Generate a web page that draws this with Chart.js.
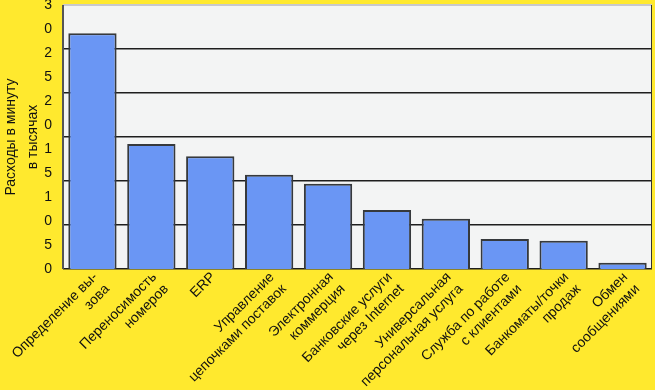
<!DOCTYPE html>
<html>
<head>
<meta charset="utf-8">
<script src="https://cdn.jsdelivr.net/npm/chart.js@4/dist/chart.umd.min.js"></script>
<style>
  html, body { margin: 0; padding: 0; background: #ffe92e; }
  #chart { display: block; }
</style>
</head>
<body>
<canvas id="chart" width="655" height="390"></canvas>
<script>
// categories along the x axis (two-line labels)
const categories = [
  ['Определение вы-', 'зова'],
  ['Переносимость', 'номеров'],
  'ERP',
  ['Управление', 'цепочками поставок'],
  ['Электронная', 'коммерция'],
  ['Банковские услуги', 'через Internet'],
  ['Универсальная', 'персональная услуга'],
  ['Служба по работе', 'с клиентами'],
  ['Банкоматы/точки', 'продаж'],
  ['Обмен', 'сообщениями']
];
// costs per minute, thousands
const costValues = [26.8, 14.2, 12.8, 10.7, 9.7, 6.7, 5.7, 3.4, 3.2, 0.7];
// the axis labels as printed in the original (bottom to top), digits got split
const yTickDigits = ['0', '5', '0', '1', '5', '1', '0', '2', '5', '2', '0', '3'];
const yTitle = ['Расходы в минуту', 'в тысячах'];

const FONT = 'Liberation Sans, Arial, sans-serif';

const plotBg = {
  id: 'plotBg',
  beforeDraw(chart) {
    const { ctx, chartArea: a } = chart;
    ctx.save();
    ctx.fillStyle = '#f3f4f4';
    ctx.fillRect(a.left, a.top, a.right - a.left, a.bottom - a.top);
    ctx.restore();
  },
  afterDatasetsDraw(chart) {
    const { ctx, chartArea: a } = chart;
    ctx.save();
    ctx.strokeStyle = '#c8c8cc';
    ctx.lineWidth = 2;
    ctx.beginPath();
    ctx.moveTo(a.left, a.top); ctx.lineTo(a.right, a.top);
    ctx.stroke();
    ctx.strokeStyle = '#555';
    ctx.beginPath();
    ctx.moveTo(a.left, a.top); ctx.lineTo(a.left, a.bottom);
    ctx.stroke();
    ctx.lineWidth = 1;
    ctx.strokeStyle = '#333';
    ctx.beginPath();
    ctx.moveTo(a.right - 0.5, a.top); ctx.lineTo(a.right - 0.5, a.bottom);
    ctx.stroke();
    ctx.restore();
  }
};

new Chart(document.getElementById('chart'), {
  type: 'bar',
  data: {
    labels: categories,
    datasets: [{
      data: costValues,
      backgroundColor: '#6a96f4',
      borderColor: '#36393c',
      borderWidth: 2,
      barPercentage: 0.82,
      categoryPercentage: 1
    }]
  },
  options: {
    responsive: false,
    animation: false,
    layout: { padding: { top: 5, right: 3, left: 0, bottom: 0 } },
    plugins: { legend: { display: false }, tooltip: { enabled: false } },
    scales: {
      x: {
        grid: { display: false, drawTicks: false },
        border: { display: false },
        ticks: {
          color: '#111',
          font: { family: FONT, size: 14, lineHeight: 1.2 },
          maxRotation: 45, minRotation: 45,
          autoSkip: false,
          padding: 0,
          labelOffset: 3
        },
        afterFit(s) { s.height = 121; }
      },
      yLbl: {
        type: 'linear',
        position: 'left',
        min: 0, max: 30,
        grid: { display: false, drawTicks: false },
        border: { display: false },
        ticks: {
          count: 12,
          autoSkip: false,
          color: '#111',
          padding: 11,
          font: { family: FONT, size: 14 },
          callback: (v, i) => yTickDigits[i]
        },
        title: {
          display: true,
          text: yTitle,
          color: '#111',
          font: { family: FONT, size: 14, lineHeight: 1.6 },
          padding: { top: 0, bottom: 0 }
        },
        afterFit(s) { s.width = 63; s.paddingTop = 0; s.paddingBottom = 0; }
      },
      y: {
        position: 'left',
        min: 0, max: 30,
        ticks: { display: false, stepSize: 5 },
        grid: { color: '#1e1e1e', lineWidth: 1.5, drawTicks: false },
        border: { display: false },
        afterFit(s) { s.width = 0; s.paddingTop = 0; s.paddingBottom = 0; }
      }
    }
  },
  plugins: [plotBg]
});
</script>
</body>
</html>
